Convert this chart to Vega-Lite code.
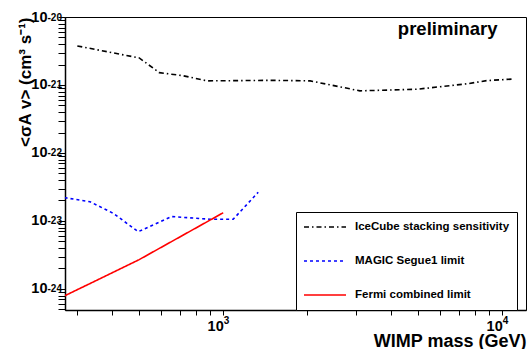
{
  "$schema": "https://vega.github.io/schema/vega-lite/v6.json",
  "width": 461,
  "height": 293,
  "autosize": {"type": "none"},
  "padding": {"left": 65, "top": 17, "right": 2, "bottom": 39},
  "background": "white",
  "config": {
    "font": "Liberation Sans",
    "view": {"stroke": "black", "strokeWidth": 1},
    "legend": {
      "orient": "none",
      "legendX": 231,
      "legendY": 195,
      "title": null,
      "fillColor": "white",
      "strokeColor": "black",
      "strokeWidth": 1,
      "cornerRadius": 0,
      "padding": 7,
      "clipHeight": 16,
      "rowPadding": 18,
      "symbolType": "stroke",
      "symbolSize": 1764,
      "symbolStrokeWidth": 1.5,
      "labelOffset": 8,
      "labelLimit": 300,
      "labelFont": "Liberation Sans",
      "labelFontWeight": "bold",
      "labelFontSize": 11.5,
      "labelColor": "black"
    }
  },
  "datasets": {
    "curves": [
      {"series": "IceCube stacking sensitivity", "mass": 300, "sigma": 3.75e-21},
      {"series": "IceCube stacking sensitivity", "mass": 500, "sigma": 2.5e-21},
      {"series": "IceCube stacking sensitivity", "mass": 590, "sigma": 1.52e-21},
      {"series": "IceCube stacking sensitivity", "mass": 717, "sigma": 1.37e-21},
      {"series": "IceCube stacking sensitivity", "mass": 875, "sigma": 1.15e-21},
      {"series": "IceCube stacking sensitivity", "mass": 1500, "sigma": 1.17e-21},
      {"series": "IceCube stacking sensitivity", "mass": 2050, "sigma": 1.15e-21},
      {"series": "IceCube stacking sensitivity", "mass": 3090, "sigma": 8.2e-22},
      {"series": "IceCube stacking sensitivity", "mass": 4940, "sigma": 8.65e-22},
      {"series": "IceCube stacking sensitivity", "mass": 7470, "sigma": 1.04e-21},
      {"series": "IceCube stacking sensitivity", "mass": 8810, "sigma": 1.16e-21},
      {"series": "IceCube stacking sensitivity", "mass": 10800, "sigma": 1.22e-21},
      {"series": "MAGIC Segue1 limit", "mass": 270, "sigma": 2.2e-23},
      {"series": "MAGIC Segue1 limit", "mass": 333, "sigma": 1.92e-23},
      {"series": "MAGIC Segue1 limit", "mass": 403, "sigma": 1.3e-23},
      {"series": "MAGIC Segue1 limit", "mass": 496, "sigma": 6.96e-24},
      {"series": "MAGIC Segue1 limit", "mass": 653, "sigma": 1.16e-23},
      {"series": "MAGIC Segue1 limit", "mass": 896, "sigma": 1.06e-23},
      {"series": "MAGIC Segue1 limit", "mass": 1086, "sigma": 1.06e-23},
      {"series": "MAGIC Segue1 limit", "mass": 1335, "sigma": 2.64e-23},
      {"series": "Fermi combined limit", "mass": 270, "sigma": 7.9e-25},
      {"series": "Fermi combined limit", "mass": 500, "sigma": 2.7e-24},
      {"series": "Fermi combined limit", "mass": 1000, "sigma": 1.32e-23}
    ],
    "notes": [
      {"label": "preliminary", "mass": 6380, "sigma": 5.44e-21}
    ]
  },
  "resolve": {"axis": {"x": "independent", "y": "independent"}},
  "layer": [
    {
      "data": {"name": "curves"},
      "mark": {"type": "line", "clip": true, "strokeWidth": 1.6},
      "encoding": {
        "x": {
          "field": "mass",
          "type": "quantitative",
          "scale": {"type": "log", "domain": [271, 12170], "nice": false},
          "axis": {
            "orient": "bottom",
            "values": [300, 400, 500, 600, 700, 800, 900, 1000, 2000, 3000, 4000, 5000, 6000, 7000, 8000, 9000, 10000],
            "labelExpr": "datum.value == 1000 || datum.value == 10000 ? '10' : ''",
            "labelFont": "Liberation Sans",
            "labelFontWeight": "bold",
            "labelFontSize": 14.5,
            "labelColor": "black",
            "labelOverlap": false,
            "labelFlush": false,
            "labelBound": false,
            "labelAlign": "right",
            "labelDx": 4,
            "labelPadding": 4,
            "tickSize": 5,
            "tickColor": "black",
            "tickWidth": 1,
            "domainColor": "black",
            "domainWidth": 1.5,
            "grid": false,
            "title": "WIMP mass (GeV)",
            "titleFont": "Liberation Sans",
            "titleFontWeight": "bold",
            "titleFontSize": 18,
            "titleColor": "black",
            "titleAlign": "right",
            "titleBaseline": "alphabetic",
            "titleX": 461,
            "titleY": 36,
            "encode": {
              "ticks": {
                "update": {
                  "y2": {"signal": "abs(log(datum.value)/LN10 - round(log(datum.value)/LN10)) < 0.01 ? -9 : -5"}
                }
              }
            }
          }
        },
        "y": {
          "field": "sigma",
          "type": "quantitative",
          "scale": {"type": "log", "domain": [4.9e-25, 1e-20], "nice": false},
          "axis": {
            "orient": "left",
            "values": [5e-25, 6e-25, 7e-25, 8e-25, 9e-25,
                       1e-24, 2e-24, 3e-24, 4e-24, 5e-24, 6e-24, 7e-24, 8e-24, 9e-24,
                       1e-23, 2e-23, 3e-23, 4e-23, 5e-23, 6e-23, 7e-23, 8e-23, 9e-23,
                       1e-22, 2e-22, 3e-22, 4e-22, 5e-22, 6e-22, 7e-22, 8e-22, 9e-22,
                       1e-21, 2e-21, 3e-21, 4e-21, 5e-21, 6e-21, 7e-21, 8e-21, 9e-21,
                       1e-20],
            "labelExpr": "abs(log(datum.value)/LN10 - round(log(datum.value)/LN10)) < 0.01 ? '10' : ''",
            "labelFont": "Liberation Sans",
            "labelFontWeight": "bold",
            "labelFontSize": 14.5,
            "labelColor": "black",
            "labelOverlap": false,
            "labelFlush": false,
            "labelBound": false,
            "labelAlign": "right",
            "labelBaseline": "middle",
            "labelDy": 2,
            "labelPadding": 11,
            "tickSize": 7,
            "tickColor": "black",
            "tickWidth": 1,
            "domainColor": "black",
            "domainWidth": 1.5,
            "grid": false,
            "title": "<σA v> (cm³ s⁻¹)",
            "titleFont": "Liberation Sans",
            "titleFontWeight": "bold",
            "titleFontSize": 17,
            "titleColor": "black",
            "titleAngle": -90,
            "titleAlign": "right",
            "titleBaseline": "middle",
            "titleX": -40,
            "titleY": 0,
            "encode": {
              "ticks": {
                "update": {
                  "x2": {"signal": "abs(log(datum.value)/LN10 - round(log(datum.value)/LN10)) < 0.01 ? 13 : 7"}
                }
              }
            }
          }
        },
        "color": {
          "field": "series",
          "type": "nominal",
          "scale": {
            "domain": ["IceCube stacking sensitivity", "MAGIC Segue1 limit", "Fermi combined limit"],
            "range": ["#000000", "#0000ff", "#ff0000"]
          },
          "legend": {"labelExpr": "datum.label"}
        },
        "strokeDash": {
          "field": "series",
          "type": "nominal",
          "scale": {
            "domain": ["IceCube stacking sensitivity", "MAGIC Segue1 limit", "Fermi combined limit"],
            "range": [[5, 3, 1.5, 3], [3, 3], [1, 0]]
          },
          "legend": {"labelExpr": "datum.label"}
        }
      }
    },
    {
      "data": {"name": "notes"},
      "mark": {"type": "text", "font": "Liberation Sans", "fontWeight": "bold", "fontSize": 18.5, "align": "center", "baseline": "alphabetic", "color": "black"},
      "encoding": {
        "x": {
          "field": "mass",
          "type": "quantitative",
          "axis": {
            "orient": "bottom",
            "values": [1000, 10000],
            "labelExpr": "datum.value == 1000 ? '3' : '4'",
            "labelFont": "Liberation Sans",
            "labelFontWeight": "bold",
            "labelFontSize": 10,
            "labelColor": "black",
            "labelOverlap": false,
            "labelFlush": false,
            "labelBound": false,
            "labelAlign": "left",
            "labelBaseline": "top",
            "labelDx": 4,
            "labelPadding": 5,
            "ticks": false,
            "tickSize": 0,
            "domain": false,
            "grid": false,
            "title": null
          }
        },
        "y": {
          "field": "sigma",
          "type": "quantitative",
          "axis": {
            "orient": "left",
            "values": [1e-24, 1e-23, 1e-22, 1e-21, 1e-20],
            "labelExpr": "datum.value == 1e-20 ? '-20' : datum.value == 1e-21 ? '-21' : datum.value == 1e-22 ? '-22' : datum.value == 1e-23 ? '-23' : '-24'",
            "labelFont": "Liberation Sans",
            "labelFontWeight": "bold",
            "labelFontSize": 10,
            "labelColor": "black",
            "labelOverlap": false,
            "labelFlush": false,
            "labelBound": false,
            "labelAlign": "left",
            "labelBaseline": "middle",
            "labelDy": -2,
            "labelPadding": 18,
            "ticks": false,
            "tickSize": 0,
            "domain": false,
            "grid": false,
            "title": null
          }
        },
        "text": {"field": "label"}
      }
    }
  ]
}
